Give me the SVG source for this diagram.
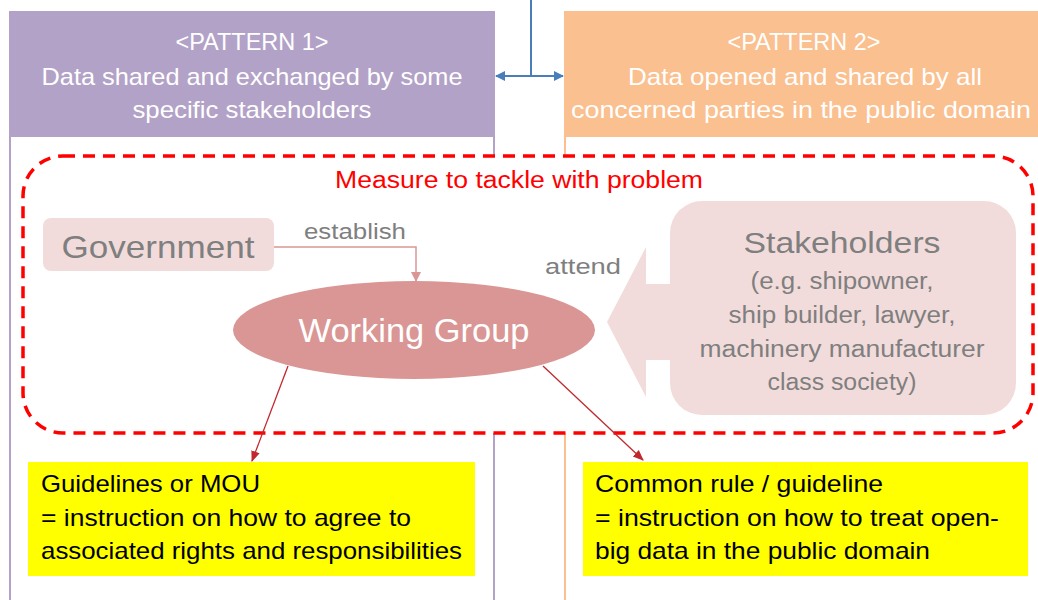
<svg xmlns="http://www.w3.org/2000/svg" width="1038" height="600" viewBox="0 0 1038 600">
<defs>
<style>
text{font-family:"Liberation Sans",Arial,sans-serif}
.hd{fill:#FFFFFF;font-size:24px;text-anchor:middle}
.gray{fill:#7F7F7F}
.bt{fill:#000000;font-size:24px}
.red{stroke:#C0282D;stroke-width:1.3;fill:none}
</style>
<marker id="mBlue" viewBox="0 0 10 10" refX="9" refY="5" markerWidth="10" markerHeight="10" markerUnits="userSpaceOnUse" orient="auto-start-reverse">
<path d="M0,0 L10,5 L0,10 z" fill="#4A7EBB"/>
</marker>
<marker id="mPink" viewBox="0 0 10 10" refX="9" refY="5" markerWidth="10" markerHeight="10" markerUnits="userSpaceOnUse" orient="auto">
<path d="M0,0 L10,5 L0,10 z" fill="#D99694"/>
</marker>
<marker id="mRed" viewBox="0 0 10 10" refX="9" refY="5" markerWidth="11" markerHeight="11" markerUnits="userSpaceOnUse" orient="auto">
<path d="M0,1 L10,5 L0,9 z" fill="#C0282D"/>
</marker>
</defs>
<rect x="0" y="0" width="1038" height="600" fill="#FFFFFF"/>

<g id="pattern1">
<rect x="10" y="12" width="484" height="620" fill="#FFFFFF" stroke="#B3A2C7" stroke-width="2"/>
<rect x="9" y="12" width="486" height="125" fill="#B3A2C7"/>
<text class="hd" x="252" y="50" font-size="22" textLength="153" lengthAdjust="spacingAndGlyphs">&lt;PATTERN 1&gt;</text>
<text class="hd" x="252" y="85" textLength="421" lengthAdjust="spacingAndGlyphs">Data shared and exchanged by some</text>
<text class="hd" x="252" y="118" textLength="239" lengthAdjust="spacingAndGlyphs">specific stakeholders</text>
</g>

<g id="pattern2">
<rect x="565" y="12" width="490" height="620" fill="#FFFFFF" stroke="#FAC090" stroke-width="2"/>
<rect x="564" y="12" width="492" height="125" fill="#FAC090"/>
<text class="hd" x="804" y="50" font-size="22" textLength="153" lengthAdjust="spacingAndGlyphs">&lt;PATTERN 2&gt;</text>
<text class="hd" x="805" y="85" textLength="354" lengthAdjust="spacingAndGlyphs">Data opened and shared by all</text>
<text class="hd" x="801" y="118" textLength="460" lengthAdjust="spacingAndGlyphs">concerned parties in the public domain</text>
</g>

<g id="measure">
<rect x="23" y="156" width="1010" height="277" rx="40" ry="40" fill="#FFFFFF" stroke="#FF0000" stroke-width="3.5" stroke-dasharray="12,8"/>
<text x="519" y="188" fill="#FF0000" font-size="23" text-anchor="middle" textLength="368" lengthAdjust="spacingAndGlyphs">Measure to tackle with problem</text>
</g>

<g id="government">
<rect x="43" y="218" width="231" height="53" rx="8" ry="8" fill="#F2DCDB"/>
<text class="gray" x="158" y="258" font-size="32" text-anchor="middle" textLength="193" lengthAdjust="spacingAndGlyphs">Government</text>
</g>

<g id="working-group">
<ellipse cx="414" cy="330" rx="181" ry="49" fill="#D99694"/>
<text x="414" y="342" fill="#FFFFFF" font-size="33" text-anchor="middle" textLength="231" lengthAdjust="spacingAndGlyphs">Working Group</text>
</g>

<g id="stakeholders">
<path d="M607,322 L646,247 L646,284 L670,284 L670,360 L646,360 L646,397 Z" fill="#F2DCDB"/>
<rect x="670" y="201" width="346" height="214" rx="32" ry="32" fill="#F2DCDB"/>
<text class="gray" x="842" y="253" font-size="30" text-anchor="middle" textLength="197" lengthAdjust="spacingAndGlyphs">Stakeholders</text>
<text class="gray" x="842" y="289" font-size="23" text-anchor="middle" textLength="183" lengthAdjust="spacingAndGlyphs">(e.g. shipowner,</text>
<text class="gray" x="842" y="323" font-size="23" text-anchor="middle" textLength="227" lengthAdjust="spacingAndGlyphs">ship builder, lawyer,</text>
<text class="gray" x="842" y="357" font-size="23" text-anchor="middle" textLength="285" lengthAdjust="spacingAndGlyphs">machinery manufacturer</text>
<text class="gray" x="842" y="390" font-size="23" text-anchor="middle" textLength="149" lengthAdjust="spacingAndGlyphs">class society)</text>
</g>

<g id="guidelines-mou">
<rect x="28" y="462" width="447" height="114" fill="#FFFF00"/>
<text class="bt" x="41" y="492" textLength="219" lengthAdjust="spacingAndGlyphs">Guidelines or MOU</text>
<text class="bt" x="41" y="526" textLength="370" lengthAdjust="spacingAndGlyphs">= instruction on how to agree to</text>
<text class="bt" x="41" y="559" textLength="421" lengthAdjust="spacingAndGlyphs">associated rights and responsibilities</text>
</g>

<g id="common-rule">
<rect x="583" y="462" width="445" height="114" fill="#FFFF00"/>
<text class="bt" x="595" y="492" textLength="288" lengthAdjust="spacingAndGlyphs">Common rule / guideline</text>
<text class="bt" x="595" y="526" textLength="404" lengthAdjust="spacingAndGlyphs">= instruction on how to treat open-</text>
<text class="bt" x="595" y="559" textLength="335" lengthAdjust="spacingAndGlyphs">big data in the public domain</text>
</g>

<g id="connectors">
<line x1="531" y1="0" x2="531" y2="76" stroke="#4A7EBB" stroke-width="2"/>
<line x1="496" y1="76" x2="563" y2="76" stroke="#4A7EBB" stroke-width="2" marker-start="url(#mBlue)" marker-end="url(#mBlue)"/>
<polyline points="274,247 416,247 416,281" fill="none" stroke="#D99694" stroke-width="1.5" marker-end="url(#mPink)"/>
<text class="gray" x="355" y="239" font-size="22" text-anchor="middle" textLength="102" lengthAdjust="spacingAndGlyphs">establish</text>
<text class="gray" x="583" y="274" font-size="22" text-anchor="middle" textLength="76" lengthAdjust="spacingAndGlyphs">attend</text>
<line class="red" x1="288" y1="366" x2="252" y2="461" marker-end="url(#mRed)"/>
<line class="red" x1="543" y1="366" x2="643" y2="460" marker-end="url(#mRed)"/>
</g>
</svg>
